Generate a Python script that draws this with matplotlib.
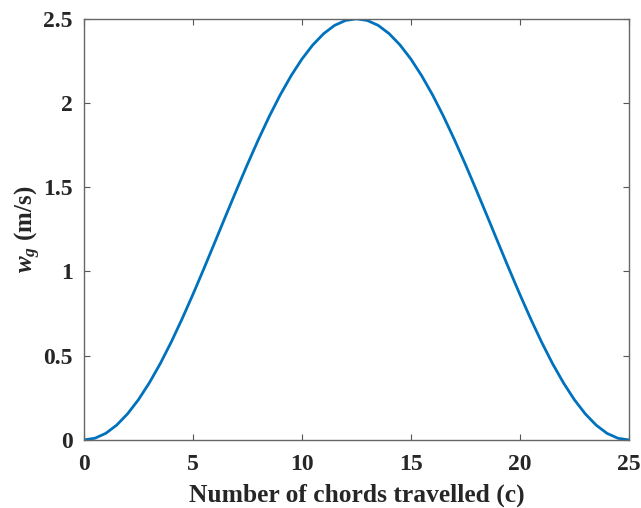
import matplotlib
matplotlib.use("Agg")
import matplotlib.pyplot as plt

# Gust velocity profile sampled every half chord
chords = [i * 0.5 for i in range(51)]
half = [0.000, 0.010, 0.039, 0.088, 0.155, 0.239, 0.339, 0.453, 0.580, 0.718,
        0.864, 1.016, 1.172, 1.329, 1.484, 1.636, 1.782, 1.920, 2.047, 2.161,
        2.261, 2.345, 2.412, 2.461, 2.490]
wg = half + [2.500] + half[::-1]

xticks = [0, 5, 10, 15, 20, 25]
yticks = [0, 0.5, 1, 1.5, 2, 2.5]
yticklabels = ["0", "0.5", "1", "1.5", "2", "2.5"]

plt.rcParams["font.family"] = ["Liberation Serif", "DejaVu Serif"]
plt.rcParams["mathtext.fontset"] = "custom"
plt.rcParams["mathtext.rm"] = "Liberation Serif:bold"
plt.rcParams["mathtext.it"] = "Liberation Serif:italic:bold"
plt.rcParams["mathtext.bf"] = "Liberation Serif:bold"

fig = plt.figure(figsize=(6.41, 5.08), dpi=100)
ax = fig.add_axes([0.131, 0.134, 0.850, 0.829])
ax.plot(chords, wg, color="#0072BD", linewidth=2.0)

ax.set_xlim(0, 25)
ax.set_ylim(0, 2.5)
ax.set_xticks(xticks)
ax.set_xticklabels([str(t) for t in xticks])
ax.set_yticks(yticks)
ax.set_yticklabels(yticklabels)
ax.tick_params(direction="in", length=4, width=0.8, colors="#555555",
               top=True, right=True, labelsize=17)
ax.tick_params(axis="x", pad=10)
ax.tick_params(axis="y", pad=8)
for lab in ax.get_xticklabels() + ax.get_yticklabels():
    lab.set_fontweight("bold")
    lab.set_color("#262626")
for sp in ax.spines.values():
    sp.set_color("#666666")
    sp.set_linewidth(1.0)

ax.set_xlabel("Number of chords travelled (c)", fontsize=18.4, fontweight="bold",
              color="#262626", labelpad=6)
ax.set_ylabel(r"$w_g$ (m/s)", fontsize=18, fontweight="bold",
              color="#262626", labelpad=0)

fig.savefig("out.png", dpi=100)
